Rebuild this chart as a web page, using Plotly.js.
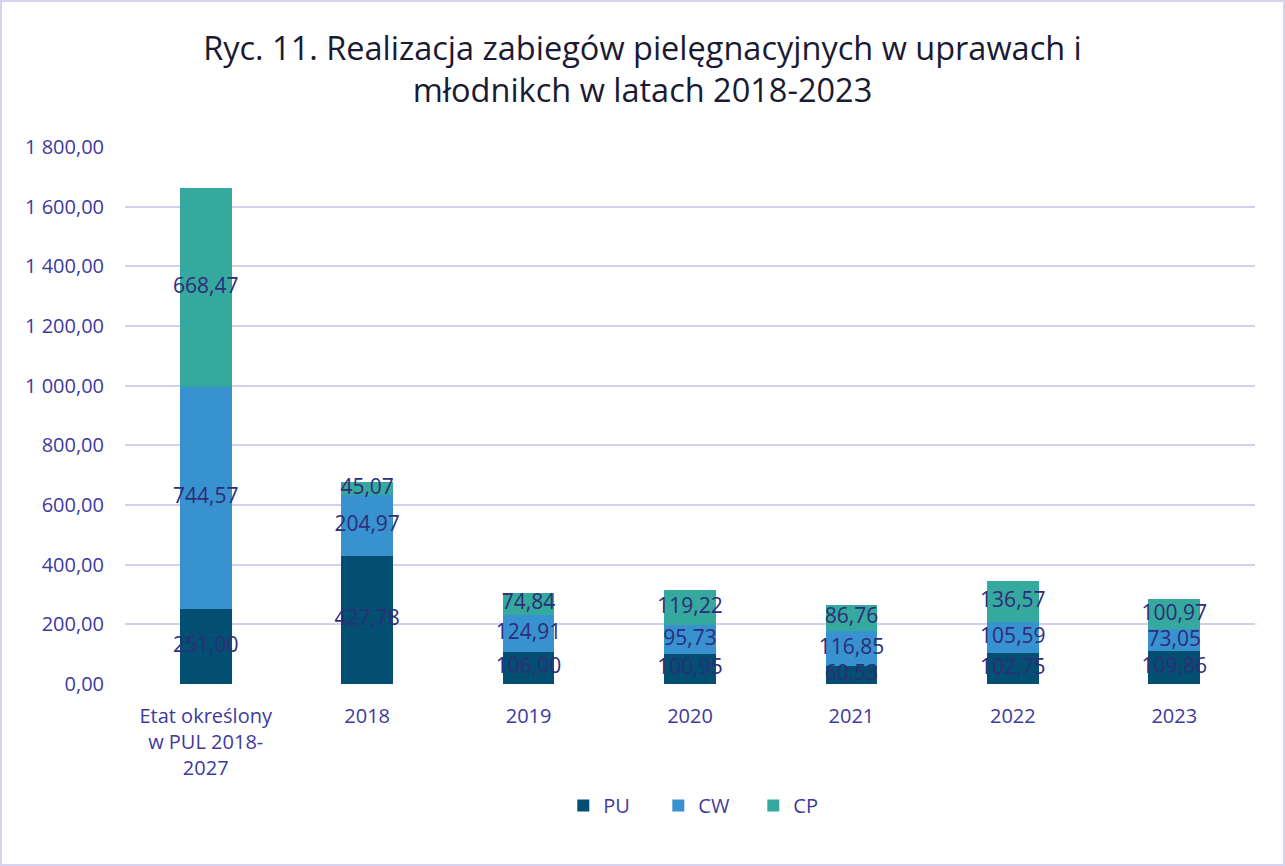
<!DOCTYPE html>
<html><head><meta charset="utf-8">
<script src="https://cdn.plot.ly/plotly-3.0.1.min.js"></script>
<style>
html,body{margin:0;padding:0;background:#fff;}
#chart{width:1281px;height:862px;border:2px solid #D6D2F0;}
</style></head>
<body><div id="chart"></div>
<script>
const categories = ["Etat określony<br>w PUL 2018-<br>2027", "2018", "2019", "2020", "2021", "2022", "2023"];
const PU = [251.00, 427.78, 106.00, 100.95, 60.53, 102.75, 109.86];
const CW = [744.57, 204.97, 124.91, 95.73, 116.85, 105.59, 73.05];
const CP = [668.47, 45.07, 74.84, 119.22, 86.76, 136.57, 100.97];
const seriesNames = ["PU", "CW", "CP"];
const colors = ["#034F71", "#3792CF", "#35A99E"];
const tickVals = [0, 200, 400, 600, 800, 1000, 1200, 1400, 1600, 1800];
const tickText = ["0,00", "200,00", "400,00", "600,00", "800,00", "1 000,00", "1 200,00", "1 400,00", "1 600,00", "1 800,00"];

const fmt = v => v.toFixed(2).replace('.', ',');
const FONT = "Open Sans, Noto Sans, sans-serif";
const series = [PU, CW, CP];
const traces = [];
series.forEach((s, i) => {
  traces.push({type: 'bar', name: seriesNames[i], x: categories, y: s,
    marker: {color: colors[i], line: {width: 0}}, textposition: 'none', hoverinfo: 'y'});
});
// labels centred in segments
const base = categories.map(() => 0);
series.forEach((s, i) => {
  const mids = s.map((v, j) => base[j] + v / 2);
  s.forEach((v, j) => base[j] += v);
  traces.push({type: 'scatter', mode: 'text', x: categories, y: mids, text: s.map(fmt),
    textfont: {family: FONT, size: 21, color: '#2F2C7A'}, showlegend: false, hoverinfo: 'skip', cliponaxis: false});
});

const layout = {
  width: 1281, height: 862,
  margin: {l: 123, r: 28, t: 145, b: 180},
  paper_bgcolor: '#fff', plot_bgcolor: '#fff',
  barmode: 'stack', bargap: 0.68,
  font: {family: FONT, color: '#3E3A9E', size: 20},
  title: {text: "Ryc. 11. Realizacja zabiegów pielęgnacyjnych w uprawach i<br>młodnikch w latach 2018-2023",
    font: {family: FONT, size: 32.5, color: '#1B1A33'}, x: 0.5, xanchor: 'center', yref: 'container', y: 0.933, yanchor: 'top'},
  xaxis: {type: 'category', showgrid: false, showline: false, zeroline: false, ticks: '',
    tickfont: {family: FONT, size: 20, color: '#3E3A9E'}, ticklabelstandoff: 18},
  yaxis: {range: [0, 1800], tickvals: tickVals, ticktext: tickText, showline: false, zeroline: false,
    gridcolor: '#D3CFEF', gridwidth: 2, ticks: '', ticklabelstandoff: 20,
    tickfont: {family: FONT, size: 20, color: '#3E3A9E'}},
  legend: {orientation: 'h', x: 0.514, xanchor: 'center', y: -0.19, yanchor: 'top', traceorder: 'normal',
    font: {family: FONT, size: 20, color: '#3E3A9E'}, itemwidth: 30, tracegroupgap: 0,
    entrywidth: 50, entrywidthmode: 'pixels'},
  showlegend: true
};
Plotly.newPlot('chart', traces, layout, {displayModeBar: false, staticPlot: true});
</script></body></html>
